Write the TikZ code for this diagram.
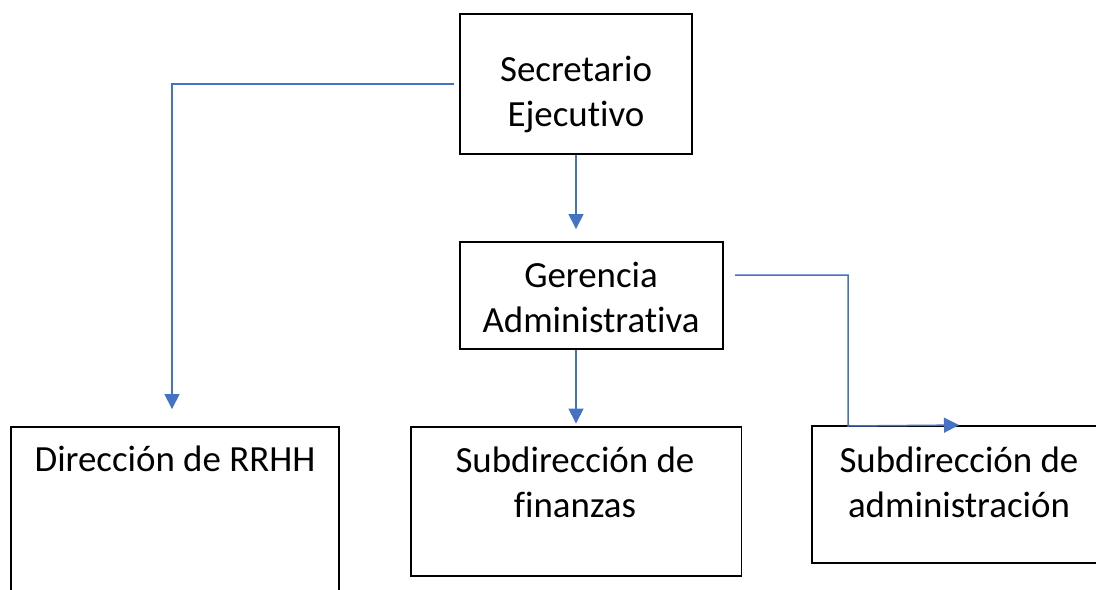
\documentclass[tikz,border=0pt]{standalone}
\usepackage{fontspec}
\setmainfont{Carlito}[RawFeature=-liga]
\usetikzlibrary{positioning,arrows.meta}
\definecolor{colorlink}{RGB}{68,114,196}
\definecolor{colorbox} {RGB}{0,0,0}

\begin{document}
\begin{tikzpicture}[
    x=0.02cm, y=-0.02cm,
    font={\fontsize{21}{25.6}\selectfont},
    box/.style={draw=colorbox,line width=1.1pt,rectangle,inner sep=0pt},
    txt/.style={text=black,align=center,inner sep=0pt},
    link/.style={draw=colorlink,line width=0.85pt,-{Triangle[width=0.3cm,length=0.3cm]}},
]
    \useasboundingbox (0,0) rectangle (1096,589);

    \node[box,minimum width=4.64cm,minimum height=2.8cm]  (sec)  at (576,84)      {};
    \node[box,minimum width=5.26cm,minimum height=2.14cm] (ger)  at (591.5,295.5) {};
    \node[box,minimum width=6.56cm,minimum height=3.56cm] (rrhh) at (175,516)     {};
    \node[box,minimum width=6.62cm,minimum height=2.98cm] (fin)  at (576,501.5)   {};
    \node[box,minimum width=5.88cm,minimum height=2.74cm] (adm)  at (959,494.5)   {};

    \node[txt] (secT)  at (576,94)  {Secretario\\Ejecutivo};
    \node[txt] (gerT)  at (591,297) {Gerencia\\Administrativa};
    \node[txt] (rrhhT) at (175,459) {Dirección de RRHH};
    \node[txt] (finT)  at (575,482) {Subdirección de\\finanzas};
    \node[txt] (admT)  at (959,482) {Subdirección de\\administración};

    \coordinate (gerOut)    at (735,275);
    \coordinate (admCorner) at (848,426);

    \draw[link,shorten <=0.1cm,shorten >=0.34cm] (sec.west) -| ([xshift=-0.06cm]rrhh.north);
    \draw[link,shorten >=0.24cm] (sec.south) -- (sec.south |- ger.north);
    \draw[link,shorten >=0.05cm] (fin.north |- ger.south) -- (fin.north);
    \draw[link] (gerOut) -| (admCorner) -- (adm.north);

\end{tikzpicture}
\end{document}
